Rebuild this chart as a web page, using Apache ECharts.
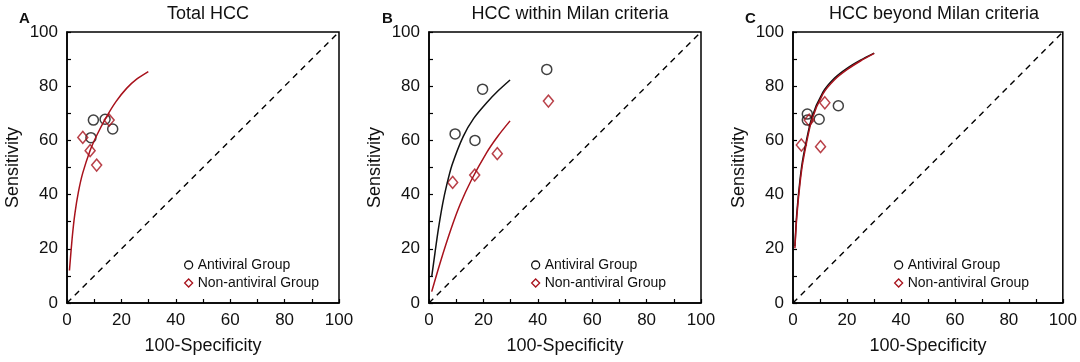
<!DOCTYPE html>
<html><head><meta charset="utf-8">
<script src="https://cdn.jsdelivr.net/npm/echarts@6/dist/echarts.min.js"></script>
<style>html,body{margin:0;padding:0;background:#fff}#c{width:1080px;height:362px}</style>
</head><body><div id="c"></div>
<script>
// ---- data ----
const panelTitles = ['Total HCC', 'HCC within Milan criteria', 'HCC beyond Milan criteria'];
const panelLetters = ['A', 'B', 'C'];
const seriesNames = ['Antiviral Group', 'Non-antiviral Group'];
const tickValues = [0, 20, 40, 60, 80, 100];

const A_antiviral = [[9.7,67.5],[14.0,67.8],[16.8,64.2],[8.8,61.0]];
const A_nonAntiviral = [[5.8,61.1],[15.5,67.5],[8.5,56.2],[10.9,50.9]];
const A_curveAntiviral = [];
const A_curveNon = [[0.9,12],[1.9,24],[2.9,33],[4.2,41],[5.8,48],[8.5,56.3],[11,62],[14,67.8],[18,74.3],[21.9,79.2],[25.6,82.6],[29.9,85.4]];

const B_antiviral = [[43.3,86.2],[19.7,78.9],[9.6,62.4],[16.9,60.0]];
const B_nonAntiviral = [[43.9,74.5],[25.1,55.1],[16.8,47.2],[8.7,44.5]];
const B_curveAntiviral = [[1.0,9.7],[2.2,18.5],[3.4,27],[5.0,36.5],[6.5,43.5],[8.5,51],[12.6,61.5],[16.5,68.2],[21.2,73.9],[25.5,78.4],[29.8,82.3]];
const B_curveNon = [[1,4.2],[4,14.5],[8,27],[11.5,36.5],[15.5,45.2],[21.2,55.5],[25.5,61.8],[29.8,67.2]];

const C_antiviral = [[5.3,69.7],[5.3,67.5],[9.7,67.8],[16.8,72.8]];
const C_nonAntiviral = [[11.8,73.9],[6.0,67.5],[3.1,58.3],[10.2,57.7]];
const C_curveAntiviral = [[0.7,21],[1.4,33],[2.6,45.5],[3.8,54],[6.9,68.2],[11.1,77.8],[15.4,83.0],[20,86.6],[25,89.6],[30.1,92.2]];
const C_curveNon = [[0.7,20.2],[1.4,31.8],[2.6,44.2],[3.8,52.8],[6.9,67.3],[11.1,77.2],[15.4,82.4],[20,86.1],[25,89.3],[30.1,92.1]];

const diagonal = [[0,0],[100,100]];

// ---- chart ----
const FONT = 'Liberation Sans, Arial, sans-serif';
const RED = '#a8121c';
const panels = [
  {left:67, anti:A_antiviral, non:A_nonAntiviral, cAnti:A_curveAntiviral, cNon:A_curveNon, legendLeft:179, letterLeft:14},
  {left:429, anti:B_antiviral, non:B_nonAntiviral, cAnti:B_curveAntiviral, cNon:B_curveNon, legendLeft:526, letterLeft:377},
  {left:793, anti:C_antiviral, non:C_nonAntiviral, cAnti:C_curveAntiviral, cNon:C_curveNon, legendLeft:889, letterLeft:740}
];
const W = 272, H = 271, TOP = 32;

const option = {animation:false, backgroundColor:'#fff', textStyle:{fontFamily:FONT},
  grid:[], xAxis:[], yAxis:[], series:[], title:[], legend:[]};

panels.forEach((p, i) => {
  option.grid.push({left:p.left, top:TOP, width:W, height:H, show:true, borderColor:'#000', borderWidth:1.5, backgroundColor:'transparent'});
  const axisCommon = {min:0, max:100, interval:20, gridIndex:i,
    axisLine:{show:true, lineStyle:{color:'#000', width:1.5}},
    axisTick:{show:true, inside:true, length:4, interval:0, lineStyle:{color:'#000', width:1.2}},
    minorTick:{show:true, splitNumber:2, length:4, lineStyle:{color:'#000', width:1.2}},
    splitLine:{show:false},
    axisLabel:{color:'#111', fontSize:17, fontFamily:FONT, formatter:v => tickValues.includes(v) ? String(v) : ''},
    nameLocation:'middle', nameTextStyle:{color:'#111', fontSize:18, fontFamily:FONT}};
  option.xAxis.push(Object.assign({}, axisCommon, {type:'value', name:'100-Specificity', nameGap:34, axisLabel:Object.assign({}, axisCommon.axisLabel, {margin:9})}));
  option.yAxis.push(Object.assign({}, axisCommon, {type:'value', name:'Sensitivity', nameGap:45, axisLabel:Object.assign({}, axisCommon.axisLabel, {margin:9})}));
  option.title.push({text:panelTitles[i], left:p.left + W/2, top:0, textAlign:'center',
    textStyle:{fontSize:18, fontWeight:'normal', color:'#111', fontFamily:FONT}});
  option.title.push({text:panelLetters[i], left:p.letterLeft, top:6,
    textStyle:{fontSize:15, fontWeight:'bold', color:'#111', fontFamily:FONT}});
  option.legend.push({orient:'vertical', left:p.legendLeft, top:253, itemGap:4, itemWidth:8, itemHeight:8,
    textStyle:{fontSize:14, color:'#111', fontFamily:FONT},
    data:[{name:seriesNames[0], icon:'circle', itemStyle:{color:'#fff', borderColor:'#111', borderWidth:1.3, opacity:1}},
          {name:seriesNames[1], icon:'diamond', itemStyle:{color:'#fff', borderColor:RED, borderWidth:1.3, opacity:1}}]});
  option.series.push({type:'line', xAxisIndex:i, yAxisIndex:i, data:diagonal, symbol:'none', silent:true,
    lineStyle:{color:'#000', width:1.4, type:[6,5]}});
  if (p.cAnti.length) option.series.push({type:'line', xAxisIndex:i, yAxisIndex:i, data:p.cAnti, symbol:'none', smooth:0.25,
    lineStyle:{color:'#111', width:1.5}});
  option.series.push({type:'line', xAxisIndex:i, yAxisIndex:i, data:p.cNon, symbol:'none', smooth:0.25,
    lineStyle:{color:RED, width:1.5}});
  option.series.push({name:seriesNames[0], type:'scatter', xAxisIndex:i, yAxisIndex:i, data:p.anti, symbol:'circle', symbolSize:10,
    itemStyle:{color:'rgba(255,255,255,0)', borderColor:'#111', borderWidth:1.5}});
  option.series.push({name:seriesNames[1], type:'scatter', xAxisIndex:i, yAxisIndex:i, data:p.non, symbol:'diamond', symbolSize:[10,12],
    itemStyle:{color:'rgba(255,255,255,0)', borderColor:RED, borderWidth:1.5}});
});

const chart = echarts.init(document.getElementById('c'), null, {renderer:'canvas'});
chart.setOption(option);
</script></body></html>
